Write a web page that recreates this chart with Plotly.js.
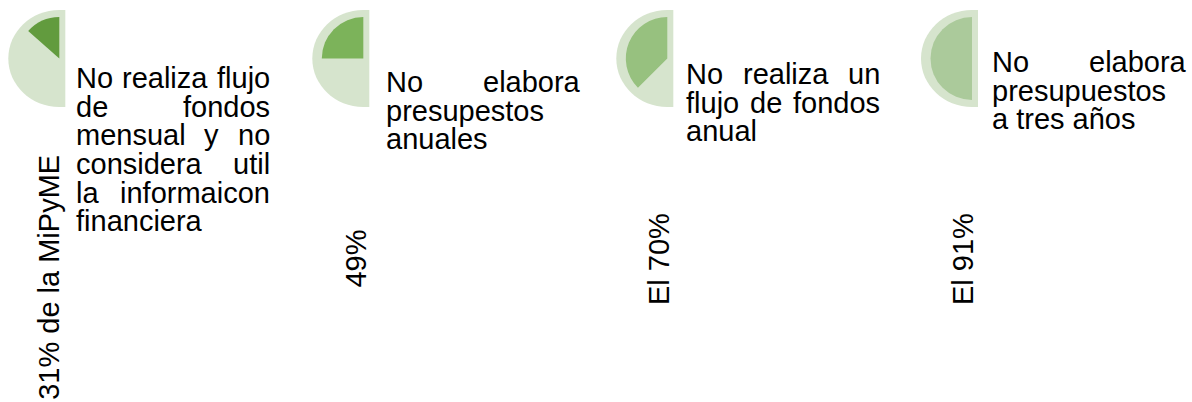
<!DOCTYPE html>
<html>
<head>
<meta charset="utf-8">
<script src="https://cdn.plot.ly/plotly-3.0.1.min.js"></script>
<style>html,body{margin:0;padding:0;background:#fff;}#chart{width:1192px;height:402px;}</style>
</head>
<body>
<div id="chart"></div>
<script>
// ---- data ----
const rotatedLabels = ["31% de la MiPyME", "49%", "El 70%", "El 91%"];
const wedgeShare = [27, 50, 75, 100];          // filled share of each half-disc (%)
const paragraphLines = [
  ["No realiza flujo", "de fondos", "mensual y no", "considera util", "la informaicon", "financiera"],
  ["No elabora", "presupestos", "anuales"],
  ["No realiza un", "flujo de fondos", "anual"],
  ["No elabora", "presupuestos", "a tres años"]
];

// ---- layout / style (not data) ----
const W = 1192, H = 402;
const FS = 29, LH = 28.7;
const FONT = "Liberation Sans, Arial, sans-serif";
const wedgeColors = ["#629b3e", "#7cb35a", "#97c17f", "#abca9b"];
const bgColor = "#d6e4cd";
const discCx = [59.3, 363.3, 667.3, 972];
const discCy = 58.5, innerR = 41.5, outerRx = 51, outerRy = 48.5, strip = 6;
const textLeft = [75, 385, 685, 991];
const textWidth = 194;
const firstBaseline = [88, 92, 84, 72];
const labelBaselineX = [59, 366, 668.5, 972.5];
const labelCenterY = [277, 258.7, 258.7, 258.7];

const px = x => x / W;
const py = y => 1 - y / H;

const ctx = document.createElement('canvas').getContext('2d');
ctx.font = FS + "px 'Liberation Sans'";
const tw = s => ctx.measureText(s).width;

const data = [];
const shapes = [];
const annotations = [];
const k = 0.5523;

for (let g = 0; g < 4; g++) {
  const cx = discCx[g];
  // background half-disc (decoration)
  const t = discCy - outerRy, b = discCy + outerRy, l = cx - outerRx;
  const path = [
    `M ${px(cx + strip)} ${py(t)}`,
    `L ${px(cx)} ${py(t)}`,
    `C ${px(cx - k * outerRx)} ${py(t)} ${px(l)} ${py(discCy - k * outerRy)} ${px(l)} ${py(discCy)}`,
    `C ${px(l)} ${py(discCy + k * outerRy)} ${px(cx - k * outerRx)} ${py(b)} ${px(cx)} ${py(b)}`,
    `L ${px(cx + strip)} ${py(b)} Z`
  ].join(' ');
  shapes.push({type: 'path', xref: 'paper', yref: 'paper', path: path,
    fillcolor: bgColor, line: {width: 0}, layer: 'below'});

  // wedge as a pie trace: right half invisible, then the filled share going
  // counter-clockwise from 12 o'clock, then the invisible remainder
  const v = wedgeShare[g];
  data.push({
    type: 'pie', values: [100, v, 100 - v], sort: false,
    direction: 'counterclockwise', rotation: 0,
    marker: {colors: ['rgba(0,0,0,0)', wedgeColors[g], 'rgba(0,0,0,0)'], line: {width: 0}},
    textinfo: 'none', hoverinfo: 'none', showlegend: false,
    domain: {x: [px(cx - innerR), px(cx + innerR)], y: [py(discCy + innerR), py(discCy - innerR)]}
  });

  // rotated label
  annotations.push({
    xref: 'paper', yref: 'paper', x: px(labelBaselineX[g] - 0.35 * FS), y: py(labelCenterY[g]),
    xanchor: 'center', yanchor: 'middle', textangle: -90, showarrow: false, borderpad: 0,
    text: rotatedLabels[g], font: {family: FONT, size: FS, color: '#000'}
  });

  // justified paragraph
  const lines = paragraphLines[g];
  lines.forEach((line, i) => {
    const yc = py(firstBaseline[g] + i * LH - 0.35 * FS);
    const words = line.split(' ');
    const last = i === lines.length - 1;
    if (last || words.length === 1) {
      annotations.push({xref: 'paper', yref: 'paper', x: px(textLeft[g]), y: yc,
        xanchor: 'left', yanchor: 'middle', showarrow: false, borderpad: 0,
        text: line, font: {family: FONT, size: FS, color: '#000'}});
    } else {
      const ws = words.map(tw);
      const gap = (textWidth - ws.reduce((a, c) => a + c, 0)) / (words.length - 1);
      let x = textLeft[g];
      words.forEach((w, j) => {
        annotations.push({xref: 'paper', yref: 'paper', x: px(x), y: yc,
          xanchor: 'left', yanchor: 'middle', showarrow: false, borderpad: 0,
          text: w, font: {family: FONT, size: FS, color: '#000'}});
        x += ws[j] + gap;
      });
    }
  });
}

const layout = {
  width: W, height: H, margin: {l: 0, r: 0, t: 0, b: 0},
  paper_bgcolor: '#fff', plot_bgcolor: '#fff', showlegend: false,
  shapes: shapes, annotations: annotations
};
Plotly.newPlot('chart', data, layout, {displayModeBar: false, staticPlot: true});
</script>
</body>
</html>
